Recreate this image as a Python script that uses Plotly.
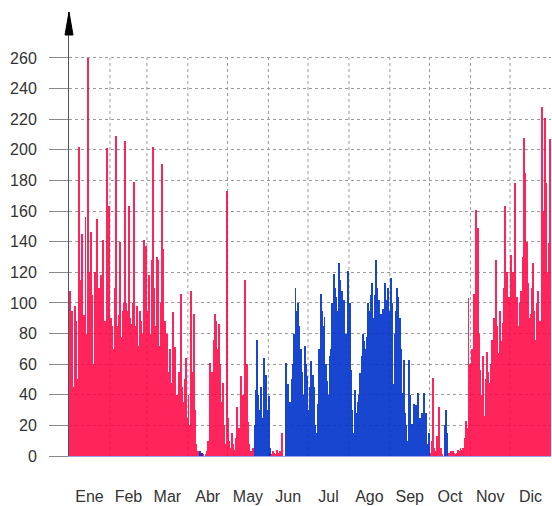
import numpy as np
import plotly.graph_objects as go

# Month labels and lengths (non-leap year)
month_names = ["Ene", "Feb", "Mar", "Abr", "May", "Jun",
               "Jul", "Ago", "Sep", "Oct", "Nov", "Dic"]
month_days = [31, 28, 31, 30, 31, 30, 31, 31, 30, 31, 30, 31]

# Daily peak heating demand (red), one list per month
heat_ene = [108, 55, 95, 45, 98, 88, 50, 202, 115, 145, 90, 92, 156, 80, 260, 120,
            146, 105, 60, 120, 95, 155, 110, 50, 118, 141, 70, 88, 201, 90, 163]
heat_feb = [90, 85, 70, 110, 209, 85, 92, 140, 78, 95, 100, 206, 100, 95, 163, 90,
            86, 100, 179, 85, 98, 72, 95, 88, 80, 141, 90, 137]
heat_mar = [95, 118, 80, 128, 202, 110, 85, 130, 128, 72, 100, 191, 135, 88, 62, 80,
            55, 70, 48, 94, 60, 71, 40, 30, 55, 106, 45, 35, 50, 64, 25]
heat_abr = [40, 20, 108, 55, 93, 30, 8, 3, 2, 1, 2, 1, 0, 1, 3, 10,
            61, 45, 55, 76, 93, 88, 70, 86, 60, 35, 48, 20, 8, 173]
heat_may = [25, 10, 5, 15, 8, 4, 12, 32, 18, 10, 52, 40, 30, 115, 60, 22,
            8, 3, 2, 5, 0, 0, 0, 0, 0, 0, 0, 0, 0, 0, 0]
heat_jun = [0, 2, 1, 3, 2, 1, 4, 2, 3, 2, 15, 0, 0, 0, 0, 0,
            0, 0, 0, 0, 0, 0, 0, 0, 0, 0, 0, 0, 0, 0]
heat_jul = [0] * 31
heat_ago = [0] * 31
heat_sep = [0] * 30
heat_oct = [2, 10, 51, 5, 3, 13, 2, 32, 5, 1, 0, 0, 0, 0, 2, 1,
            3, 3, 2, 1, 2, 4, 3, 5, 4, 5, 12, 23, 18, 103, 60]
heat_nov = [45, 70, 106, 85, 161, 149, 80, 56, 40, 65, 26, 50, 68, 55, 48, 60,
            76, 90, 70, 128, 85, 67, 95, 75, 87, 110, 163, 120, 95, 104]
heat_dic = [131, 100, 120, 178, 95, 104, 85, 100, 108, 130, 208, 185, 140, 113, 90, 93,
            110, 126, 95, 76, 100, 108, 88, 74, 228, 160, 221, 178, 120, 139, 207]

# Daily peak cooling demand (blue), one list per month
cool_ene = [0] * 31
cool_feb = [0] * 28
cool_mar = [0] * 31
cool_abr = [0, 0, 0, 0, 0, 0, 0, 0, 0, 3, 2, 0, 0, 0, 0, 0,
            0, 0, 0, 0, 0, 0, 0, 0, 0, 0, 0, 0, 0, 0]
cool_may = [0, 0, 0, 0, 0, 0, 0, 0, 0, 0, 0, 0, 0, 0, 0, 0,
            0, 0, 0, 0, 20, 43, 76, 40, 30, 45, 25, 64, 35, 53, 30]
cool_jun = [39, 5, 0, 0, 0, 0, 0, 0, 0, 0, 0, 0, 0, 61, 47, 30,
            35, 50, 60, 80, 110, 95, 100, 85, 70, 55, 40, 72, 60, 52]
cool_jul = [30, 45, 62, 53, 45, 20, 15, 34, 70, 106, 95, 85, 91, 60, 49, 40,
            65, 70, 100, 119, 110, 104, 95, 126, 115, 108, 90, 102, 80, 43, 121]
cool_ago = [100, 56, 30, 15, 43, 28, 35, 40, 54, 65, 80, 75, 70, 78, 100, 95,
            105, 113, 90, 105, 128, 110, 102, 80, 93, 96, 70, 113, 102, 110, 95]
cool_sep = [116, 100, 47, 80, 95, 110, 104, 90, 70, 41, 63, 28, 20, 10, 63, 40,
            21, 15, 34, 33, 12, 41, 25, 10, 28, 41, 10, 28, 8, 15]
cool_oct = [0, 0, 0, 0, 0, 0, 0, 0, 0, 0, 0, 20, 30, 15, 0, 0,
            0, 0, 0, 0, 0, 0, 0, 0, 0, 0, 0, 0, 0, 0, 0]
cool_nov = [0] * 30
cool_dic = [0] * 31

y_ticks = list(range(0, 261, 20))

heat = (heat_ene + heat_feb + heat_mar + heat_abr + heat_may + heat_jun +
        heat_jul + heat_ago + heat_sep + heat_oct + heat_nov + heat_dic)
cool = (cool_ene + cool_feb + cool_mar + cool_abr + cool_may + cool_jun +
        cool_jul + cool_ago + cool_sep + cool_oct + cool_nov + cool_dic)

edges = np.cumsum([0] + month_days)
mids = (edges[:-1] + edges[1:]) / 2
days = np.arange(len(heat)) + 0.5

RED = "#ff0040"
BLUE = "#0033cc"
GRID = "#9a9a9a"
FONT = dict(family="Liberation Sans, Arial, sans-serif", size=16, color="#333333")

fig = go.Figure()
fig.add_bar(x=days, y=heat, width=0.7, name="Calefacción",
            marker=dict(color=RED, line_width=0), opacity=0.85)
fig.add_bar(x=days, y=cool, width=0.7, name="Refrigeración",
            marker=dict(color=BLUE, line_width=0), opacity=0.9)

# Dotted month separators, limited to the top tick
for e in edges[1:-1]:
    fig.add_shape(type="line", xref="x", yref="y", x0=e, x1=e, y0=0, y1=y_ticks[-1],
                  line=dict(color=GRID, width=1, dash="dot"), layer="below")

# Arrow head on top of the vertical axis
fig.add_shape(type="path", xref="paper", yref="paper",
              xsizemode="pixel", ysizemode="pixel", xanchor=0, yanchor=1,
              path="M -4,-23 L 4,-23 L 0,0 Z",
              fillcolor="black", line=dict(color="black", width=1))

fig.update_layout(
    width=552, height=506,
    margin=dict(l=69, r=1, t=12, b=46),
    paper_bgcolor="white", plot_bgcolor="white",
    barmode="overlay", bargap=0,
    showlegend=False,
    font=FONT,
)
fig.update_xaxes(
    range=[0, 365], tickvals=mids, ticktext=month_names,
    showgrid=False, zeroline=False,
    ticks="outside", ticklen=26, tickcolor="rgba(0,0,0,0)",
    showline=True, linecolor="#95a3e6", linewidth=1,
    tickfont=FONT, fixedrange=True,
)
fig.update_yaxes(
    range=[0, 290], tickvals=y_ticks,
    showgrid=True, gridcolor=GRID, griddash="dot", gridwidth=1,
    zeroline=False,
    ticks="outside", ticklen=19, tickcolor="#8a8a8a", tickwidth=1,
    showline=True, linecolor="#555555", linewidth=1,
    tickfont=FONT, ticklabelstandoff=9, fixedrange=True,
)

fig.write_html("out.html")
